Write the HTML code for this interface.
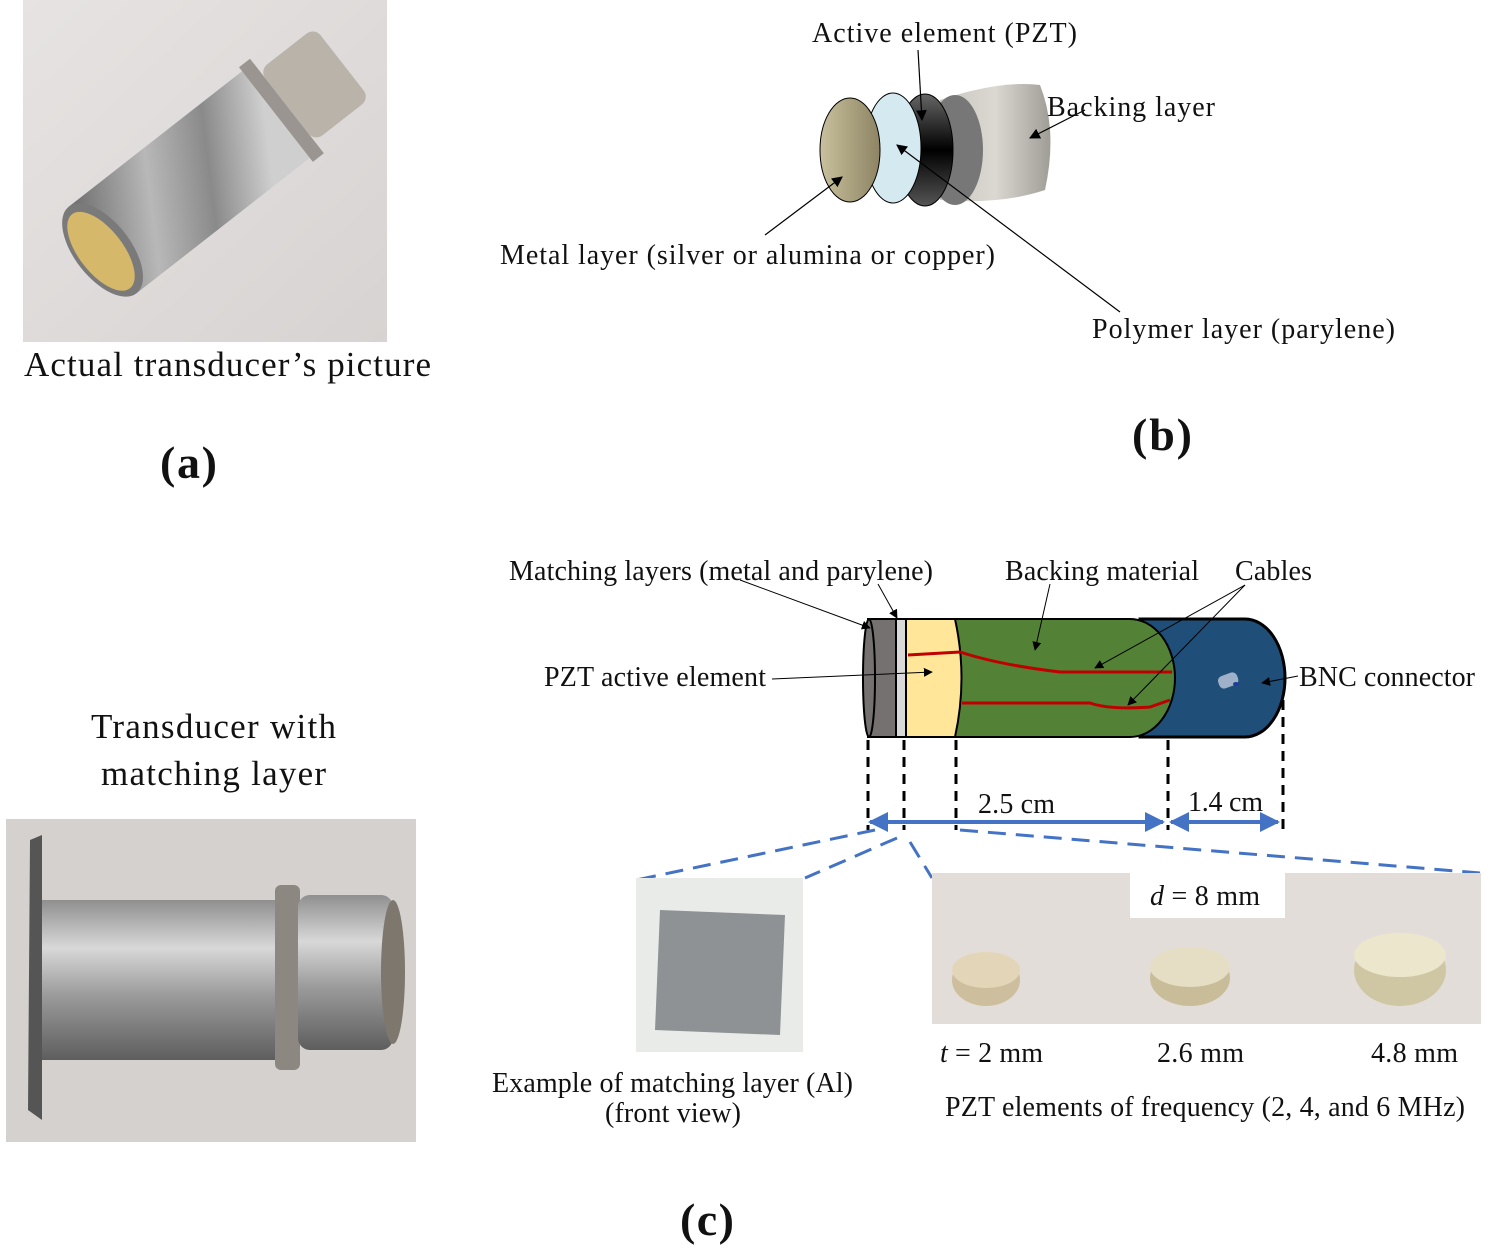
<!DOCTYPE html>
<html><head><meta charset="utf-8"><style>
html,body{margin:0;padding:0;background:#fff}
svg{display:block}
text{font-family:"Liberation Serif",serif;fill:#111}
</style></head><body>
<svg width="1498" height="1249" viewBox="0 0 1498 1249" xmlns="http://www.w3.org/2000/svg">
<defs>
<linearGradient id="bg1" x1="0" y1="0" x2="1" y2="1"><stop offset="0" stop-color="#e6e3e2"/><stop offset="1" stop-color="#d7d3d2"/></linearGradient>
<linearGradient id="steel" x1="0" y1="0" x2="1" y2="0.3"><stop offset="0" stop-color="#6b6b6b"/><stop offset="0.4" stop-color="#b8b8b8"/><stop offset="0.7" stop-color="#8a8a8a"/><stop offset="1" stop-color="#cfcfcf"/></linearGradient>
<linearGradient id="steel2" x1="0" y1="0" x2="0" y2="1"><stop offset="0" stop-color="#8f8f8f"/><stop offset="0.3" stop-color="#d8d8d8"/><stop offset="0.6" stop-color="#9a9a9a"/><stop offset="1" stop-color="#5e5e5e"/></linearGradient>
<linearGradient id="metal" x1="0" y1="0" x2="1" y2="0"><stop offset="0" stop-color="#c9c09e"/><stop offset="1" stop-color="#8e8464"/></linearGradient>
<linearGradient id="pzt" x1="0" y1="0" x2="0" y2="1"><stop offset="0" stop-color="#666"/><stop offset="0.5" stop-color="#000"/><stop offset="1" stop-color="#555"/></linearGradient>
<linearGradient id="back" x1="0" y1="0" x2="1" y2="0"><stop offset="0" stop-color="#c9c7bf"/><stop offset="0.5" stop-color="#dad8d0"/><stop offset="1" stop-color="#9f9d96"/></linearGradient>
<marker id="ah" viewBox="0 0 10 10" refX="9" refY="5" markerWidth="9" markerHeight="9" orient="auto-start-reverse"><path d="M0,0 L10,5 L0,10z" fill="#000"/></marker>
<marker id="bh" viewBox="0 0 10 10" refX="9" refY="5" markerWidth="5" markerHeight="5" orient="auto-start-reverse"><path d="M0,0 L10,5 L0,10z" fill="#4472c4"/></marker>
</defs>

<rect x="23" y="0" width="364" height="342" fill="url(#bg1)"/>
<g transform="translate(205,170) rotate(-38)">
<rect x="-130" y="-55" width="220" height="110" fill="url(#steel)"/>
<rect x="90" y="-60" width="14" height="120" fill="#9a9590"/>
<rect x="104" y="-45" width="70" height="90" rx="10" fill="#b9b3aa"/>
<ellipse cx="-130" cy="0" rx="28" ry="55" fill="#7a7a7a"/>
<ellipse cx="-132" cy="0" rx="22" ry="47" fill="#d6b86a"/>
</g>
<text x="24" y="376" font-size="35" textLength="407">Actual transducer’s picture</text>
<text x="160" y="478" font-size="46" font-weight="bold" textLength="57">(a)</text>

<path d="M940,100 Q1000,80 1040,85 Q1058,130 1045,190 Q1000,205 940,200z" fill="url(#back)"/>
<ellipse cx="955" cy="150" rx="28" ry="55" fill="#777"/>
<ellipse cx="925" cy="150" rx="28" ry="56" fill="url(#pzt)" stroke="#000"/>
<ellipse cx="893" cy="148" rx="28" ry="55" fill="#d5e9f0" stroke="#000"/>
<ellipse cx="850" cy="150" rx="30" ry="52" fill="url(#metal)" stroke="#000"/>
<g stroke="#000" stroke-width="1.2" fill="none">
<line x1="918" y1="50" x2="922" y2="120" marker-end="url(#ah)"/>
<line x1="1085" y1="110" x2="1030" y2="138" marker-end="url(#ah)"/>
<line x1="765" y1="235" x2="842" y2="177" marker-end="url(#ah)"/>
<line x1="1120" y1="312" x2="897" y2="145" marker-end="url(#ah)"/>
</g>
<text x="812" y="42" font-size="28" textLength="265">Active element (PZT)</text>
<text x="1047" y="116" font-size="28" textLength="168">Backing layer</text>
<text x="500" y="264" font-size="28" textLength="495">Metal layer (silver or alumina or copper)</text>
<text x="1092" y="338" font-size="28" textLength="303">Polymer layer (parylene)</text>
<text x="1132" y="450" font-size="46" font-weight="bold" textLength="60">(b)</text>

<text x="91" y="738" font-size="35" textLength="245">Transducer with</text>
<text x="101" y="785" font-size="35" textLength="225">matching layer</text>
<rect x="6" y="819" width="410" height="323" fill="#d5d1cf"/>
<path d="M30,840 L42,835 L42,1120 L28,1110z" fill="#555"/>
<rect x="42" y="900" width="240" height="160" fill="url(#steel2)"/>
<rect x="275" y="885" width="25" height="185" rx="6" fill="#8c8780"/>
<rect x="298" y="895" width="95" height="155" rx="12" fill="url(#steel2)"/>
<ellipse cx="393" cy="972" rx="12" ry="72" fill="#7d776e"/>

<path d="M1140,619 L1245,619 A40,59 0 0 1 1245,737 L1140,737z" fill="#1f4e79" stroke="#000" stroke-width="3"/>
<path d="M955,619 L1130,619 A45,59 0 0 1 1130,737 L955,737z" fill="#538135" stroke="#000" stroke-width="2"/>
<path d="M905,619 L955,619 Q968,678 955,737 L905,737z" fill="#ffe699" stroke="#000" stroke-width="2"/>
<rect x="895" y="619" width="11" height="118" fill="#d9d9d9" stroke="#000" stroke-width="2"/>
<rect x="868" y="619" width="28" height="118" fill="#767171" stroke="#000" stroke-width="2"/>
<ellipse cx="869" cy="678" rx="6" ry="59" fill="#767171" stroke="#000" stroke-width="2"/>
<g stroke="#c00000" stroke-width="3" fill="none">
<path d="M908,655 L960,652 Q1000,665 1060,672 L1172,672"/>
<path d="M962,703 L1090,703 Q1110,710 1150,707 L1170,700"/>
</g>
<rect x="1218" y="674" width="20" height="13" rx="5" fill="#9fb1c8" transform="rotate(-20 1228 680)"/>
<ellipse cx="1236" cy="684" rx="3" ry="2" fill="#1f3c99"/>
<g stroke="#000" stroke-width="1" fill="none">
<line x1="740" y1="580" x2="870" y2="628" marker-end="url(#ah)"/>
<line x1="878" y1="584" x2="897" y2="618" marker-end="url(#ah)"/>
<line x1="1050" y1="584" x2="1035" y2="650" marker-end="url(#ah)"/>
<line x1="1245" y1="585" x2="1095" y2="668" marker-end="url(#ah)"/>
<line x1="1245" y1="585" x2="1128" y2="705" marker-end="url(#ah)"/>
<line x1="772" y1="679" x2="932" y2="672" marker-end="url(#ah)"/>
<line x1="1298" y1="676" x2="1262" y2="683" marker-end="url(#ah)"/>
</g>
<text x="509" y="580" font-size="28" textLength="424">Matching layers (metal and parylene)</text>
<text x="1005" y="580" font-size="28" textLength="194">Backing material</text>
<text x="1235" y="580" font-size="28" textLength="77">Cables</text>
<text x="544" y="686" font-size="28" textLength="222">PZT active element</text>
<text x="1299" y="686" font-size="28" textLength="176">BNC connector</text>

<g stroke="#000" stroke-width="3" stroke-dasharray="10,7">
<line x1="868" y1="740" x2="868" y2="830"/><line x1="904" y1="740" x2="904" y2="830"/>
<line x1="956" y1="740" x2="956" y2="830"/><line x1="1168" y1="740" x2="1168" y2="830"/>
<line x1="1283" y1="700" x2="1283" y2="830"/>
</g>
<g stroke="#4472c4" stroke-width="4">
<line x1="870" y1="822" x2="1163" y2="822" marker-start="url(#bh)" marker-end="url(#bh)"/>
<line x1="1171" y1="822" x2="1278" y2="822" marker-start="url(#bh)" marker-end="url(#bh)"/>
</g>
<text x="978" y="813" font-size="28" textLength="77">2.5 cm</text>
<text x="1188" y="811" font-size="28" textLength="75">1.4 cm</text>
<g stroke="#4472c4" stroke-width="3" stroke-dasharray="18,10" fill="none">
<line x1="875" y1="830" x2="636" y2="880"/>
<line x1="897" y1="838" x2="805" y2="878"/>
<line x1="910" y1="842" x2="932" y2="878"/>
<line x1="960" y1="830" x2="1480" y2="873"/>
</g>

<rect x="636" y="878" width="167" height="174" fill="#e9ebe9"/>
<path d="M660,910 L785,915 L780,1035 L655,1030z" fill="#8e9294"/>
<text x="492" y="1092" font-size="28" textLength="361">Example of matching layer (Al)</text>
<text x="605" y="1122" font-size="28" textLength="136">(front view)</text>

<rect x="932" y="873" width="549" height="151" fill="#e2ddd9"/>
<rect x="1130" y="873" width="155" height="45" fill="#fff"/>
<text x="1150" y="905" font-size="28" textLength="110"><tspan font-style="italic">d</tspan> = 8 mm</text>
<ellipse cx="986" cy="980" rx="34" ry="26" fill="#cdbf9d"/><ellipse cx="986" cy="970" rx="34" ry="18" fill="#e3d6b8"/>
<ellipse cx="1190" cy="978" rx="40" ry="28" fill="#c8bd98"/><ellipse cx="1190" cy="967" rx="40" ry="20" fill="#e6dec4"/>
<ellipse cx="1400" cy="970" rx="46" ry="36" fill="#cfc7a4"/><ellipse cx="1400" cy="955" rx="46" ry="22" fill="#ece6cc"/>
<text x="940" y="1062" font-size="28" textLength="103"><tspan font-style="italic">t</tspan> = 2 mm</text>
<text x="1157" y="1062" font-size="28" textLength="87">2.6 mm</text>
<text x="1371" y="1062" font-size="28" textLength="87">4.8 mm</text>
<text x="945" y="1116" font-size="28" textLength="520">PZT elements of frequency (2, 4, and 6 MHz)</text>
<text x="680" y="1235" font-size="46" font-weight="bold" textLength="54">(c)</text>
</svg>
</body></html>
